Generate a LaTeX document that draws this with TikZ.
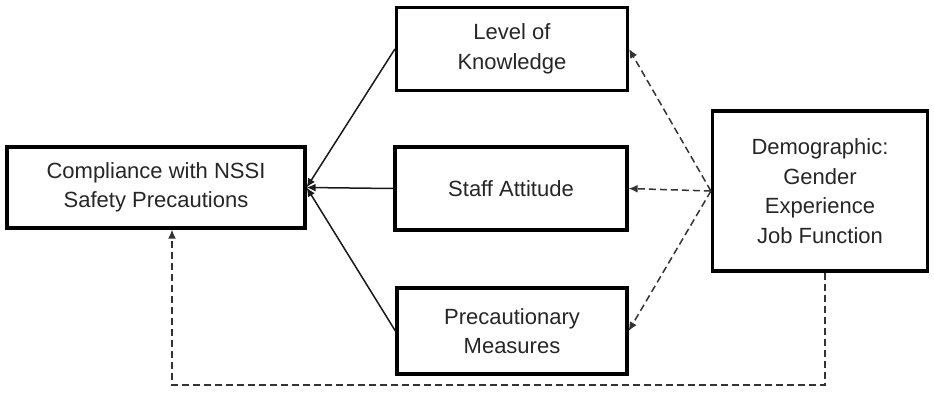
\documentclass[tikz,border=0pt]{standalone}
\usepackage{fontspec}
\setmainfont{Liberation Sans}
\usetikzlibrary{arrows.meta}
\begin{document}
\begin{tikzpicture}[x=1pt,y=-1pt,
  box/.style={draw=black, line width=3.2pt, rectangle, align=center, inner sep=0pt,
    font=\fontsize{22}{29.5}\selectfont, text=black!85},
  solidarr/.style={draw=black!90, line width=1.5pt, -{Latex[length=9pt,width=8pt]}},
  dasharr/.style={draw=black!80, line width=1.5pt, dash pattern=on 7pt off 4pt, -{Latex[length=9pt,width=8pt]}}]
\useasboundingbox (0,0) rectangle (934,397);
\node[box, minimum width=298pt, minimum height=81pt] (comp) at (156,187.5) {Compliance with NSSI\\Safety Precautions};
\node[box, minimum width=231pt, minimum height=83pt] (know) at (512,49) {Level of\\Knowledge};
\node[box, minimum width=232pt, minimum height=83pt] (att) at (511,188.5) {Staff Attitude};
\node[box, minimum width=230pt, minimum height=86pt] (prec) at (512,331) {Precautionary\\Measures};
\node[box, minimum width=215pt, minimum height=160pt] (demo) at (820,191) {Demographic:\\Gender\\Experience\\Job Function};
\coordinate (br) at (825,385);
\coordinate (bl) at (172,385);
\draw[solidarr] (know.west) -- (comp.east);
\draw[solidarr] (att.west) -- (comp.east);
\draw[solidarr] (prec.west) -- (comp.east);
\draw[dasharr] (demo.west) -- (know.east);
\draw[dasharr] (demo.west) -- (att.east);
\draw[dasharr] (demo.west) -- (prec.east);
\draw[dasharr] (demo.south -| br) -- (br) -- (bl) -- (bl |- comp.south);
\end{tikzpicture}
\end{document}
